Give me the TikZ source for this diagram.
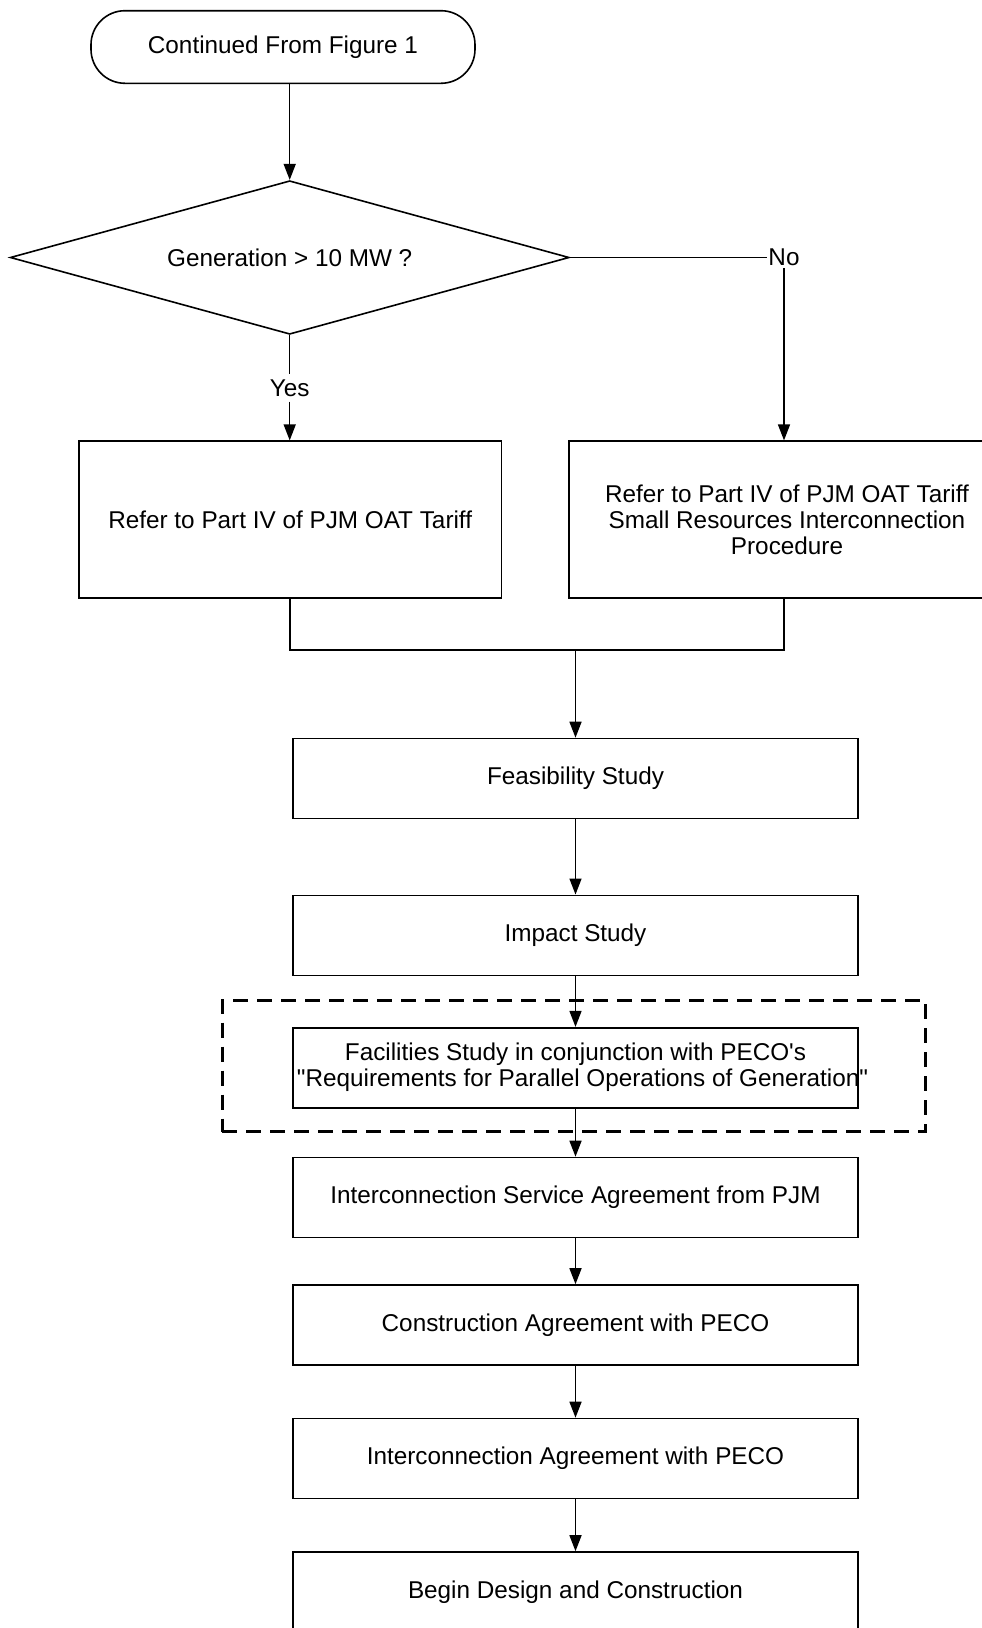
\documentclass[tikz,border=0pt]{standalone}
\usepackage{fontspec}
\setmainfont{Liberation Sans}
\usetikzlibrary{shapes.geometric,arrows.meta}
\begin{document}
\begin{tikzpicture}[x=1pt,y=-1pt,
  font=\fontsize{24.3}{26}\selectfont,
  box/.style={draw, line width=1.6pt, rectangle, inner sep=0pt, align=center, minimum height=80pt},
  widebox/.style={box, minimum width=564.7pt},
  conn/.style={line width=1.5pt},
  arr/.style={conn, -{Triangle[width=12pt,length=16pt]}},
  lbl/.style={inner sep=2pt}]
\useasboundingbox (0,0) rectangle (982,1628);
\fill[white] (0,0) rectangle (982,1628);

% top part
\node[draw, line width=1.6pt, rounded corners=34pt, minimum width=384pt, minimum height=72.6pt] (start) at (283,47) {Continued From Figure 1};
\node[diamond, draw, line width=1.6pt, minimum width=559pt, minimum height=153.6pt, inner sep=0pt, aspect=3.6] (dec) at (289.7,257.5) {Generation > 10 MW ?};
\node[lbl, inner xsep=1pt] (no) at (784,257.5) {No};
\node[lbl, inner ysep=5pt] (yes) at (289.7,388) {Yes};

\node[box, minimum width=422.5pt, minimum height=156.8pt] (lbox) at (290.2,519.6) {Refer to Part IV of PJM OAT Tariff};
\node[box, minimum width=436pt, minimum height=156.8pt] (rbox) at (787,519.6) {Refer to Part IV of PJM OAT Tariff\\Small Resources Interconnection\\Procedure};

\draw[arr] (start.south -| dec.north) -- (dec.north);
\draw[conn] (dec.south) -- (yes.north);
\draw[arr] (yes.south) -- (yes.south |- lbox.north);
\draw[conn] (dec.east) -- (no.west);
\draw[arr] (no.south) -- (no.south |- rbox.north);

% merge
\coordinate (mR) at (784,650);
\coordinate (mM) at (575.5,650);
\draw[conn] (lbox.south) |- (mR) -- (mR |- rbox.south);

% chain of steps
\node[widebox] (feas) at (575.5,778.5) {Feasibility Study};
\node[widebox] (imp) at (575.5,935.3) {Impact Study};
\node[draw, dash pattern=on 15pt off 9pt, line width=3pt, minimum width=703pt, minimum height=131.5pt, inner sep=0pt] (grp) at (573.5,1065.8) {};
\node[widebox] (fac) at (575.5,1067.7) {\makebox[0pt]{Facilities Study in conjunction with PECO\textquotesingle s}\\\makebox[0pt]{\hspace{14pt}\textquotedbl Requirements for Parallel Operations of Generation\textquotedbl}};
\node[widebox] (isa) at (575.5,1197.5) {Interconnection Service Agreement from PJM};
\node[widebox] (ca) at (575.5,1325) {Construction Agreement with PECO};
\node[widebox] (ia) at (575.5,1458.5) {Interconnection Agreement with PECO};
\node[widebox] (bd) at (575.5,1592) {Begin Design and Construction};

\draw[arr] (mM) -- (feas.north);
\draw[arr] (feas.south) -- (imp.north);
\draw[arr] (imp.south) -- (fac.north);
\draw[arr] (fac.south) -- (isa.north);
\draw[arr] (isa.south) -- (ca.north);
\draw[arr] (ca.south) -- (ia.north);
\draw[arr] (ia.south) -- (bd.north);
\end{tikzpicture}
\end{document}
